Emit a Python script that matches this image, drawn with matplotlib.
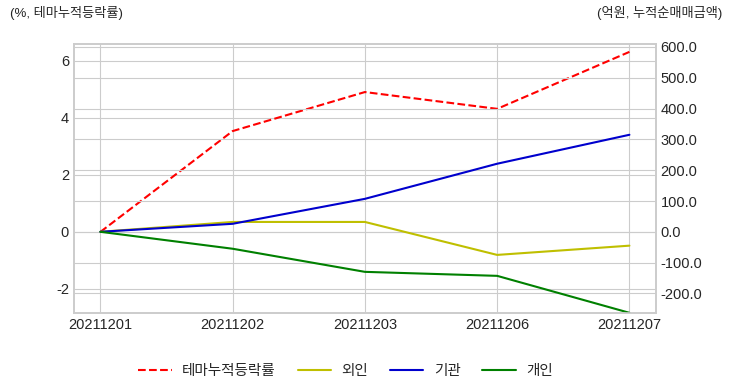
import matplotlib.pyplot as plt

plt.style.use('seaborn-v0_8-whitegrid')
plt.rcParams['font.family'] = ['Liberation Sans', 'Noto Sans CJK KR', 'DejaVu Sans']
plt.rcParams['axes.unicode_minus'] = False

dates = ['20211201', '20211202', '20211203', '20211206', '20211207']
theme_return = [0.0, 3.54, 4.91, 4.32, 6.32]
foreign = [0.0, 32.0, 32.0, -75.0, -45.0]
institution = [0.0, 26.0, 107.0, 221.0, 315.0]
individual = [0.0, -55.0, -130.0, -143.0, -263.0]

fig, ax = plt.subplots(figsize=(7.32, 3.92), dpi=100)
fig.subplots_adjust(left=0.101, right=0.896, top=0.888, bottom=0.202)

l1, = ax.plot(dates, theme_return, color='red', linestyle='--', linewidth=1.5, label='테마누적등락률')
ax.set_ylim(-2.84, 6.6)

ax2 = ax.twinx()
l2, = ax2.plot(dates, foreign, color='y', linewidth=1.5, label='외인')
l3, = ax2.plot(dates, institution, color='mediumblue', linewidth=1.5, label='기관')
l4, = ax2.plot(dates, individual, color='green', linewidth=1.5, label='개인')
ax2.set_ylim(-263, 610)
ax2.set_yticks([-200, -100, 0, 100, 200, 300, 400, 500, 600])
ax2.set_yticklabels(['{:.1f}'.format(v) for v in ax2.get_yticks()])

for a in (ax, ax2):
    a.tick_params(labelsize=10.5, colors='#262626', length=0)
    for s in a.spines.values():
        s.set_color('#cccccc')
        s.set_linewidth(1.2)

fig.text(0.014, 0.95, '(%, 테마누적등락률)', fontsize=9.5, color='#262626', va='bottom')
fig.text(0.986, 0.95, '(억원, 누적순매매금액)', fontsize=9.5, color='#262626', va='bottom', ha='right')

fig.legend(handles=[l1, l2, l3, l4], loc='lower center', ncol=4, frameon=False,
           bbox_to_anchor=(0.472, 0.003), fontsize=10.5, columnspacing=1.5,
           handlelength=2.3, handletextpad=0.7)

fig.savefig('out.png', dpi=100)
